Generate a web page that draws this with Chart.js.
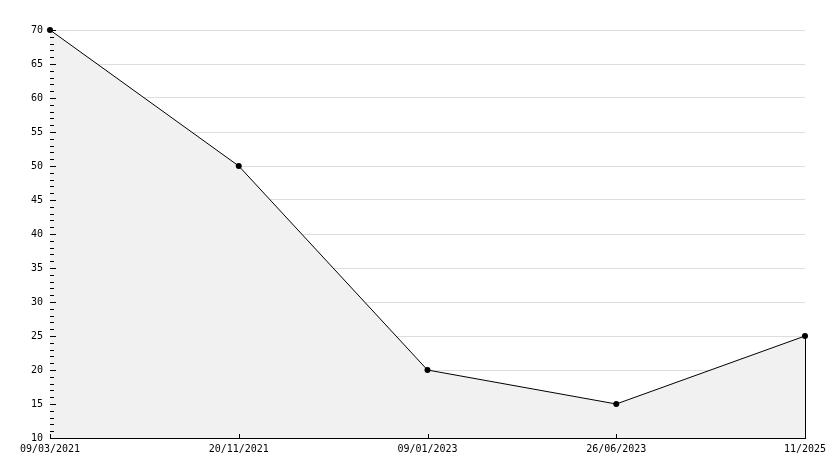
<!DOCTYPE html>
<html>
<head>
<meta charset="utf-8">
<script src="https://cdn.jsdelivr.net/npm/chart.js@4"></script>
<style>
html,body{margin:0;padding:0;background:#fff;}
#wrap{width:834px;height:468px;position:relative;}
</style>
</head>
<body>
<div id="wrap"><canvas id="c"></canvas></div>
<script>
const categories = ["09/03/2021", "20/11/2021", "09/01/2023", "26/06/2023", "11/2025"];
const values = [70, 50, 20, 15, 25];
const yMin = 10, yMax = 70, yStep = 5, yMinorStep = 1;

const FONT = {family: "'DejaVu Sans Mono', monospace", size: 10};

const tickPlugin = {
  id: 'ticks',
  afterDatasetsDraw(chart) {
    const ctx = chart.ctx, a = chart.chartArea;
    const ys = chart.scales.y, xs = chart.scales.x;
    ctx.save();
    ctx.strokeStyle = '#000';
    ctx.lineWidth = 1;
    ctx.beginPath();
    for (let v = yMin; v <= yMax; v += yMinorStep) {
      const py = Math.round(ys.getPixelForValue(v)) + 0.5;
      const len = (v % yStep === 0) ? 6 : 4;
      ctx.moveTo(a.left, py);
      ctx.lineTo(a.left + len, py);
    }
    categories.forEach((c, i) => {
      const px = Math.round(xs.getPixelForValue(i)) + 0.5;
      ctx.moveTo(px, a.bottom);
      ctx.lineTo(px, a.bottom - 4);
    });
    const meta = chart.getDatasetMeta(0);
    const last = meta.data[meta.data.length - 1];
    const lx = Math.round(last.x) + 0.5;
    ctx.moveTo(lx, last.y);
    ctx.lineTo(lx, a.bottom);
    ctx.stroke();
    ctx.restore();
  }
};

new Chart(document.getElementById('c'), {
  type: 'line',
  data: {
    labels: categories,
    datasets: [{
      data: values,
      borderColor: '#000',
      borderWidth: 1,
      backgroundColor: '#f1f1f1',
      fill: 'start',
      tension: 0,
      clip: false,
      pointRadius: 3,
      pointHoverRadius: 3,
      pointStyle: 'circle',
      pointBackgroundColor: '#000',
      pointBorderColor: '#000',
      pointBorderWidth: 0
    }]
  },
  options: {
    responsive: true,
    maintainAspectRatio: false,
    animation: false,
    events: [],
    layout: {padding: {left: 0, top: 30, right: 29, bottom: 0}},
    plugins: {legend: {display: false}, tooltip: {enabled: false}},
    scales: {
      x: {
        type: 'category',
        offset: false,
        grid: {display: true, drawOnChartArea: false, drawTicks: false},
        border: {display: true, color: '#000', width: 1},
        ticks: {font: FONT, color: '#000', padding: 5, maxRotation: 0, autoSkip: false},
        afterFit(s) { s.height = 30; s.paddingLeft = 0; s.paddingRight = 0; }
      },
      y: {
        min: yMin, max: yMax,
        grid: {color: '#dddddd', drawTicks: false, lineWidth: 1},
        border: {display: true, color: '#000', width: 1},
        ticks: {stepSize: yStep, font: FONT, color: '#000', padding: 7},
        afterFit(s) { s.width = 50; s.paddingTop = 0; s.paddingBottom = 0; }
      }
    }
  },
  plugins: [tickPlugin]
});
</script>
</body>
</html>
